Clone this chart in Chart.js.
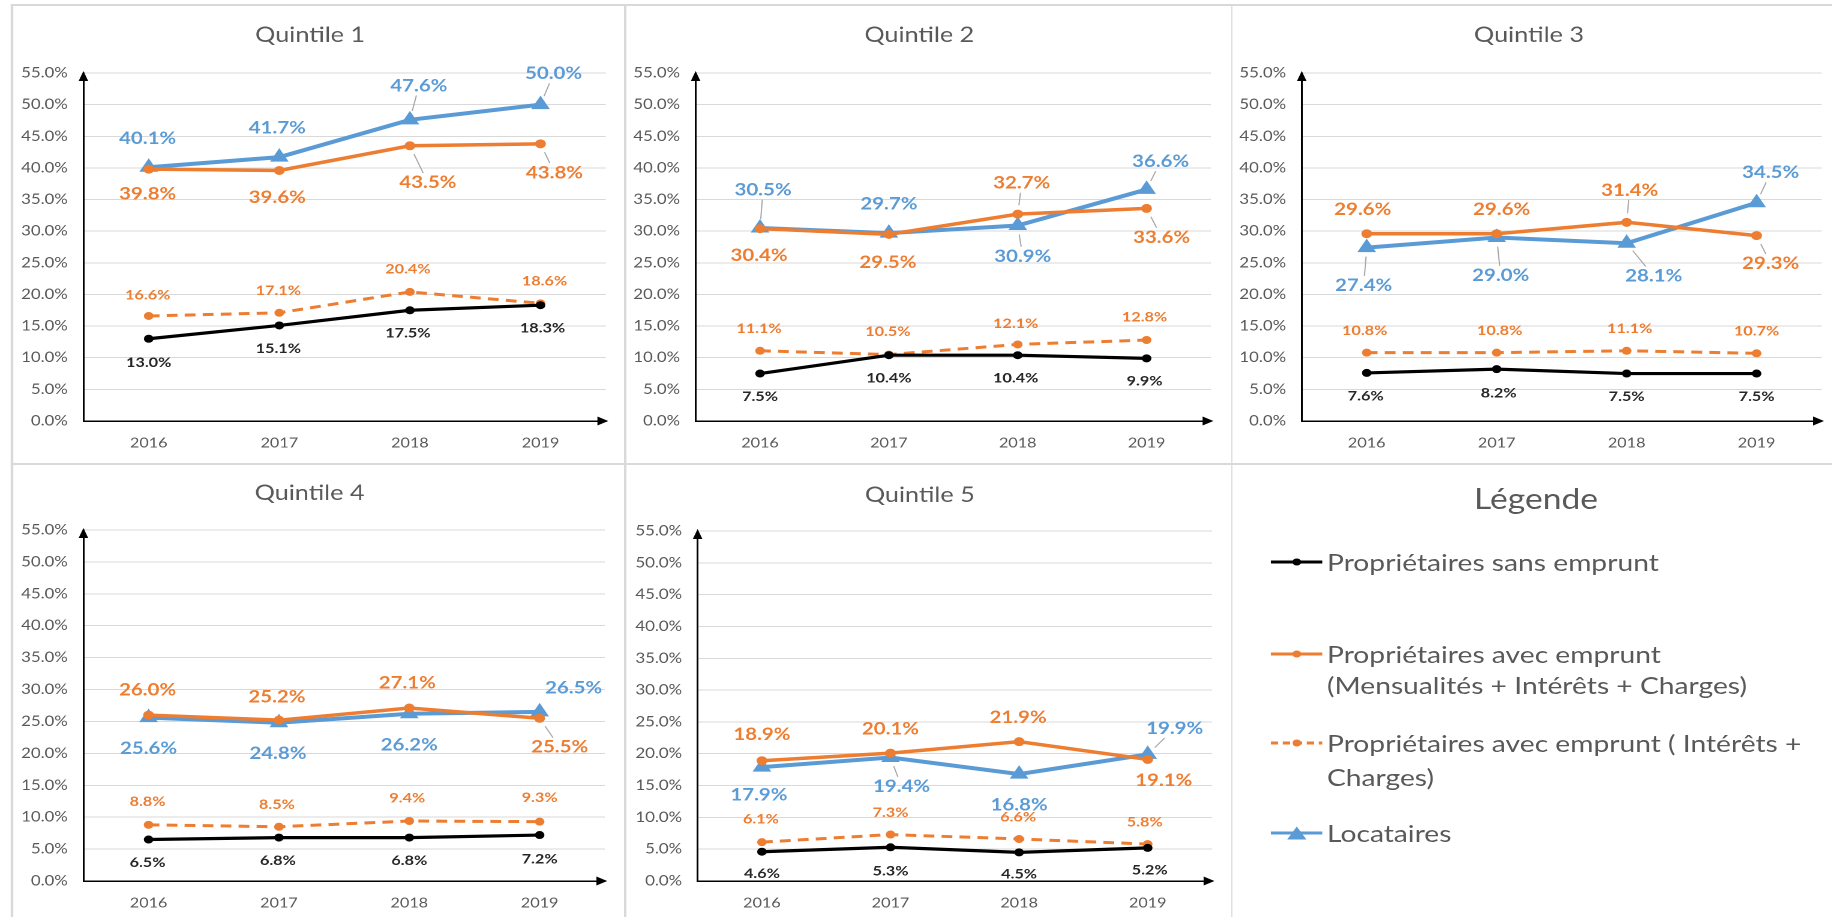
<!DOCTYPE html>
<html>
<head>
<meta charset="utf-8">
<script src="https://cdn.jsdelivr.net/npm/chart.js@4.4.1/dist/chart.umd.min.js"></script>
<style>
  html, body { margin: 0; padding: 0; background: #ffffff; overflow: hidden; }
  #stage {
    position: absolute; left: 0; top: 0;
    width: 1526.67px; height: 917px;
    transform: scaleX(1.2); transform-origin: 0 0;
    font-family: Lato, 'Open Sans', 'DejaVu Sans', sans-serif;
  }
  .rule { position: absolute; background: #d9d9d9; }
  canvas { position: absolute; }
  .legend-title { position: absolute; text-align: center; font-size: 28px; color: #595959; line-height: 32px; }
  .legend-text { position: absolute; font-size: 23.5px; color: #595959; white-space: pre; }
  .legend-symbol { position: absolute; }
</style>
</head>
<body>
<div id="stage"></div>
<script>
// Horizontal stretch of the whole board (layout numbers below are final page pixels)
const S = 1.2;
const FONT = "Lato, 'Open Sans', 'DejaVu Sans', sans-serif";

// ---- Data -------------------------------------------------------------
const years = ['2016', '2017', '2018', '2019'];
const yTickLabels = ['0.0%', '5.0%', '10.0%', '15.0%', '20.0%', '25.0%',
                     '30.0%', '35.0%', '40.0%', '45.0%', '50.0%', '55.0%'];
const quintileTitles = ['Quintile 1', 'Quintile 2', 'Quintile 3', 'Quintile 4', 'Quintile 5'];
const legendTitle = 'Légende';
const seriesNames = [
  'Propriétaires sans emprunt',
  'Propriétaires avec emprunt\n(Mensualités + Intérêts + Charges)',
  'Propriétaires avec emprunt ( Intérêts +\nCharges)',
  'Locataires'
];

const q1Sans       = [13.0, 15.1, 17.5, 18.3];
const q1Total      = [39.8, 39.6, 43.5, 43.8];
const q1Interets   = [16.6, 17.1, 20.4, 18.6];
const q1Locataires = [40.1, 41.7, 47.6, 50.0];

const q2Sans       = [7.5, 10.4, 10.4, 9.9];
const q2Total      = [30.4, 29.5, 32.7, 33.6];
const q2Interets   = [11.1, 10.5, 12.1, 12.8];
const q2Locataires = [30.5, 29.7, 30.9, 36.6];

const q3Sans       = [7.6, 8.2, 7.5, 7.5];
const q3Total      = [29.6, 29.6, 31.4, 29.3];
const q3Interets   = [10.8, 10.8, 11.1, 10.7];
const q3Locataires = [27.4, 29.0, 28.1, 34.5];

const q4Sans       = [6.5, 6.8, 6.8, 7.2];
const q4Total      = [26.0, 25.2, 27.1, 25.5];
const q4Interets   = [8.8, 8.5, 9.4, 9.3];
const q4Locataires = [25.6, 24.8, 26.2, 26.5];

const q5Sans       = [4.6, 5.3, 4.5, 5.2];
const q5Total      = [18.9, 20.1, 21.9, 19.1];
const q5Interets   = [6.1, 7.3, 6.6, 5.8];
const q5Locataires = [17.9, 19.4, 16.8, 19.9];

// ---- Value label placement: [dx, dy, leaderLine] relative to each point ----
const q1LabelPos = {
  sans:     [[0, 24], [-1, 23], [-2, 23], [2, 23]],
  total:    [[-1, 25], [-2, 27], [18, 37, 1], [14, 29, 1]],
  interets: [[-1, -21], [-1, -22], [-2, -23], [4, -22]],
  loc:      [[-1, -29], [-2, -29], [9, -34, 1], [13, -31, 1]]
};
const q2LabelPos = {
  sans:     [[0, 23], [0, 23], [-2, 23], [-2, 23]],
  total:    [[-1, 27], [-1, 28], [4, -31, 1], [15, 29, 1]],
  interets: [[-1, -22], [-1, -23], [-2, -21], [-2, -23]],
  loc:      [[3, -38, 1], [0, -29], [5, 31, 1], [14, -28, 1]]
};
const q3LabelPos = {
  sans:     [[-1, 23], [2, 24], [0, 23], [0, 23]],
  total:    [[-4, -24], [5, -24], [3, -32, 1], [14, 28, 1]],
  interets: [[-2, -22], [3, -22], [3, -22], [0, -22]],
  loc:      [[-3, 38, 1], [4, 38, 1], [27, 33, 1], [14, -30, 1]]
};
const q4LabelPos = {
  sans:     [[-1, 23], [-1, 23], [0, 23], [0, 24]],
  total:    [[-1, -25], [-2, -23], [-2, -25], [20, 29, 1]],
  interets: [[-1, -23], [-2, -22], [-2, -23], [0, -24]],
  loc:      [[0, 31], [-1, 31], [0, 31], [34, -24]]
};
const q5LabelPos = {
  sans:     [[0, 22], [0, 24], [0, 22], [2, 22]],
  total:    [[0, -26], [0, -24], [-1, -24], [16, 21]],
  interets: [[-1, -23], [0, -22], [-1, -22], [-3, -22]],
  loc:      [[-3, 28], [11, 29, 1], [0, 31], [27, -26, 1]]
};

// ---- Series styles ----------------------------------------------------
const BLUE = '#5B9BD5', ORANGE = '#ED7D31', BLACK = '#000000';
const labelStyles = {
  sans:     { font: 'bold 13.5px ' + FONT, size: 13.5, color: '#262626' },
  total:    { font: 'bold 17px ' + FONT, size: 17, color: ORANGE },
  interets: { font: 'bold 13.5px ' + FONT, size: 13.5, color: ORANGE },
  loc:      { font: 'bold 17px ' + FONT, size: 17, color: BLUE }
};

// ---- Layout (page pixels) --------------------------------------------
const panels = [
  { title: quintileTitles[0], values: [q1Sans, q1Total, q1Interets, q1Locataires], labelPos: q1LabelPos,
    canvas: [14, 7, 623, 462], plot: [83, 73, 606, 421], titleY: 35 },
  { title: quintileTitles[1], values: [q2Sans, q2Total, q2Interets, q2Locataires], labelPos: q2LabelPos,
    canvas: [627, 7, 1230, 462], plot: [695, 73, 1211, 421], titleY: 35 },
  { title: quintileTitles[2], values: [q3Sans, q3Total, q3Interets, q3Locataires], labelPos: q3LabelPos,
    canvas: [1234, 7, 1832, 462], plot: [1302, 73, 1824, 421], titleY: 35 },
  { title: quintileTitles[3], values: [q4Sans, q4Total, q4Interets, q4Locataires], labelPos: q4LabelPos,
    canvas: [14, 466, 623, 917], plot: [83, 530, 605, 881], titleY: 493 },
  { title: quintileTitles[4], values: [q5Sans, q5Total, q5Interets, q5Locataires], labelPos: q5LabelPos,
    canvas: [627, 466, 1230, 917], plot: [697, 531, 1212, 881], titleY: 495 }
];

const stage = document.getElementById('stage');

// Table rules separating the six cells
function rule(x, y, w, h) {
  const d = document.createElement('div');
  d.className = 'rule';
  d.style.left = (x / S) + 'px';
  d.style.top = y + 'px';
  d.style.width = (w / S) + 'px';
  d.style.height = h + 'px';
  stage.appendChild(d);
}
rule(11, 4, 2, 913);
rule(624, 4, 2, 913);
rule(1231, 4, 2, 913);
rule(11, 4, 1821, 2);
rule(11, 463, 1821, 2);

// ---- Plugins ----------------------------------------------------------
const pointLabels = {
  id: 'pointLabels',
  afterDatasetsDraw(chart) {
    const ctx = chart.ctx;
    chart.data.datasets.forEach((ds, di) => {
      const meta = chart.getDatasetMeta(di);
      const st = labelStyles[ds.key];
      meta.data.forEach((pt, i) => {
        const [ox, oy, lead] = ds.labelPos[i];
        const dx = ox / S, dy = oy;
        const lx = pt.x + dx, ly = pt.y + dy;
        const text = ds.data[i].toFixed(1) + '%';
        ctx.save();
        ctx.font = st.font;
        if (lead) {
          const hw = ctx.measureText(text).width / 2 + 2;
          const hh = st.size * 0.45 + 2;
          const tx = dx === 0 ? Infinity : hw / Math.abs(dx);
          const ty = dy === 0 ? Infinity : hh / Math.abs(dy);
          const t = Math.min(tx, ty);
          const len = Math.hypot(dx, dy);
          const ex = lx - dx * t, ey = ly - dy * t;
          const sx = pt.x + dx / len * 9, sy = pt.y + dy / len * 9;
          if (t < 1 && Math.hypot(ex - sx, ey - sy) > 2) {
            ctx.strokeStyle = '#a6a6a6';
            ctx.lineWidth = 1;
            ctx.beginPath();
            ctx.moveTo(sx, sy);
            ctx.lineTo(ex, ey);
            ctx.stroke();
          }
        }
        ctx.fillStyle = st.color;
        ctx.textAlign = 'center';
        ctx.textBaseline = 'middle';
        ctx.fillText(text, lx, ly);
        ctx.restore();
      });
    });
  }
};

const axisArrows = {
  id: 'axisArrows',
  afterDraw(chart) {
    const ctx = chart.ctx, a = chart.chartArea;
    ctx.save();
    ctx.fillStyle = '#000';
    ctx.beginPath();
    ctx.moveTo(a.left, a.top - 2);
    ctx.lineTo(a.left - 4, a.top + 8);
    ctx.lineTo(a.left + 4, a.top + 8);
    ctx.closePath();
    ctx.fill();
    ctx.beginPath();
    ctx.moveTo(a.right + 2, a.bottom);
    ctx.lineTo(a.right - 7, a.bottom - 4.5);
    ctx.lineTo(a.right - 7, a.bottom + 4.5);
    ctx.closePath();
    ctx.fill();
    ctx.restore();
  }
};

// ---- Charts -----------------------------------------------------------
const X_AXIS_H = 28;
const TITLE_SIZE = 21;

panels.forEach(p => {
  const [cl, ct, cr, cb] = p.canvas;
  const [pl, pt, pr, pb] = p.plot;
  const cv = document.createElement('canvas');
  const w = (cr - cl) / S, h = cb - ct;
  cv.width = w; cv.height = h;
  cv.style.left = (cl / S) + 'px';
  cv.style.top = ct + 'px';
  cv.style.width = w + 'px';
  cv.style.height = h + 'px';
  stage.appendChild(cv);

  const lineH = TITLE_SIZE * 1.2;
  const titleTop = (p.titleY - ct) - lineH / 2;
  const titleBottom = (pt - ct) - titleTop - lineH;
  const yAxisW = (pl - cl) / S;
  const padRight = (cr - pr) / S;
  const padBottom = (cb - pb) - X_AXIS_H;

  const [vSans, vTotal, vInt, vLoc] = p.values;
  const datasets = [
    { key: 'sans', label: seriesNames[0], data: vSans, labelPos: p.labelPos.sans,
      borderColor: BLACK, backgroundColor: BLACK, borderWidth: 3.2,
      pointStyle: 'circle', pointRadius: 4, pointBorderWidth: 0 },
    { key: 'total', label: seriesNames[1].replace('\n', ' '), data: vTotal, labelPos: p.labelPos.total,
      borderColor: ORANGE, backgroundColor: ORANGE, borderWidth: 3.5,
      pointStyle: 'circle', pointRadius: 4.5, pointBorderWidth: 0 },
    { key: 'interets', label: seriesNames[2].replace('\n', ' '), data: vInt, labelPos: p.labelPos.interets,
      borderColor: ORANGE, backgroundColor: ORANGE, borderWidth: 3, borderDash: [9, 6],
      pointStyle: 'circle', pointRadius: 4, pointBorderWidth: 0 },
    { key: 'loc', label: seriesNames[3], data: vLoc, labelPos: p.labelPos.loc,
      borderColor: BLUE, backgroundColor: BLUE, borderWidth: 4,
      pointStyle: 'triangle', pointRadius: 9, pointBorderWidth: 0 }
  ];

  new Chart(cv, {
    type: 'line',
    data: { labels: years, datasets },
    options: {
      responsive: false,
      animation: false,
      devicePixelRatio: 2,
      layout: { padding: { left: 0, top: 0, right: padRight, bottom: padBottom } },
      elements: { line: { tension: 0 } },
      plugins: {
        legend: { display: false },
        tooltip: { enabled: false },
        title: {
          display: true,
          text: p.title,
          color: '#595959',
          font: { family: FONT, size: TITLE_SIZE, weight: 'normal' },
          padding: { top: titleTop, bottom: titleBottom }
        }
      },
      scales: {
        x: {
          offset: true,
          grid: { display: false, drawTicks: false },
          border: { display: true, color: '#000', width: 1.5 },
          ticks: { color: '#595959', font: { family: FONT, size: 13.5 }, padding: 14 },
          afterFit(s) { s.height = X_AXIS_H; }
        },
        y: {
          min: 0, max: 55,
          grid: { color: '#d9d9d9', lineWidth: 1, drawTicks: false },
          border: { display: true, color: '#000', width: 1.5 },
          ticks: {
            stepSize: 5,
            color: '#595959',
            font: { family: FONT, size: 14 },
            padding: 13,
            callback: (v, i) => yTickLabels[i]
          },
          afterFit(s) { s.width = yAxisW; }
        }
      }
    },
    plugins: [pointLabels, axisArrows]
  });
});

// ---- Legend cell --------------------------------------------------------
const lt = document.createElement('div');
lt.className = 'legend-title';
lt.textContent = legendTitle;
lt.style.left = ((1536 - 150) / S) + 'px';
lt.style.width = (300 / S) + 'px';
lt.style.top = (498 - 16) + 'px';
stage.appendChild(lt);

const legendRows = [
  { y: 562, lh: 32, kind: 'sans' },
  { y: 654, lh: 31, kind: 'total' },
  { y: 743, lh: 34, kind: 'interets' },
  { y: 833, lh: 32, kind: 'loc' }
];
const SYM_W = 52 / S;
function symbolSvg(kind) {
  const c = SYM_W / 2;
  const color = kind === 'sans' ? BLACK : (kind === 'loc' ? BLUE : ORANGE);
  const dash = kind === 'interets' ? ' stroke-dasharray="6 4"' : '';
  const marker = kind === 'loc'
    ? `<polygon points="${c},3.5 ${c - 8},16.5 ${c + 8},16.5" fill="${color}"/>`
    : `<circle cx="${c}" cy="10" r="3.5" fill="${color}"/>`;
  return `<svg width="${SYM_W}" height="20" viewBox="0 0 ${SYM_W} 20">` +
         `<line x1="0" y1="10" x2="${SYM_W}" y2="10" stroke="${color}" stroke-width="3"${dash}/>` +
         marker + `</svg>`;
}
legendRows.forEach((r, i) => {
  const sym = document.createElement('div');
  sym.className = 'legend-symbol';
  sym.style.left = (1271 / S) + 'px';
  sym.style.top = (r.y - 10) + 'px';
  sym.innerHTML = symbolSvg(r.kind);
  stage.appendChild(sym);

  const t = document.createElement('div');
  t.className = 'legend-text';
  t.style.left = (1327 / S) + 'px';
  t.style.top = (r.y - r.lh / 2) + 'px';
  t.style.lineHeight = r.lh + 'px';
  t.textContent = seriesNames[i];
  stage.appendChild(t);
});
</script>
</body>
</html>
